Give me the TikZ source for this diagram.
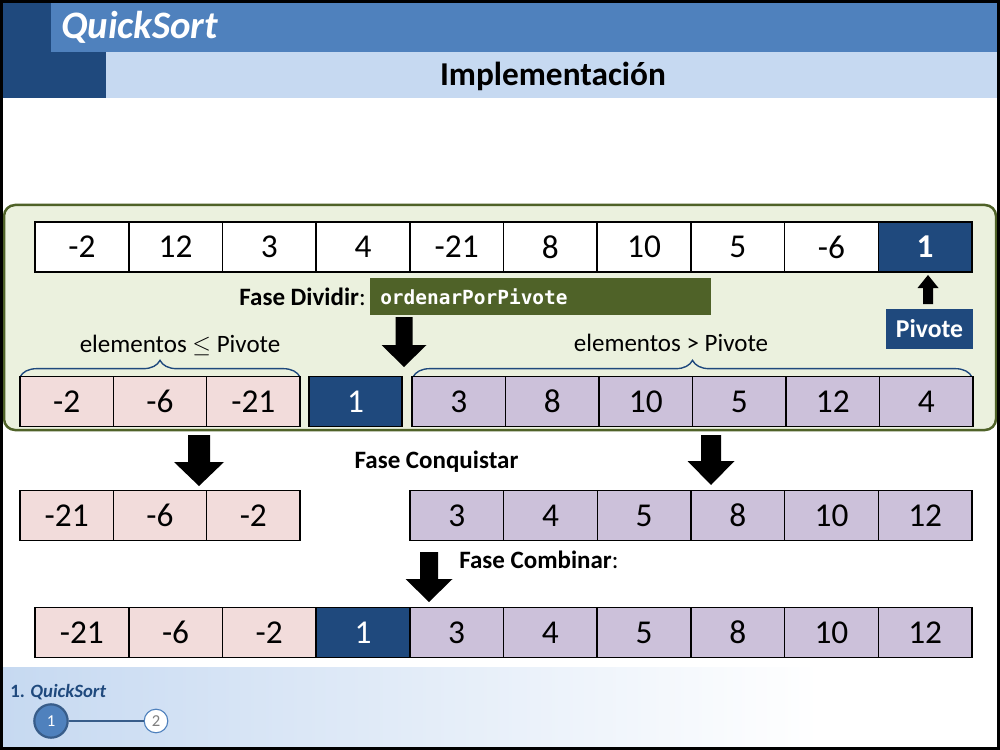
\documentclass[tikz,border=0pt]{standalone}
\usepackage{fontspec}
\setmainfont{Carlito}
\newfontfamily\codefont{DejaVu Sans Mono}
\usetikzlibrary{decorations.pathreplacing}
\definecolor{dkblue}{HTML}{1F497D}
\definecolor{mdblue}{HTML}{4F81BD}
\definecolor{ltblue}{HTML}{C6D9F1}
\definecolor{panelfill}{HTML}{EBF1DE}
\definecolor{olive}{HTML}{4F6228}
\definecolor{pinkc}{HTML}{F2DCDB}
\definecolor{purplec}{HTML}{CCC1DA}
\definecolor{ringblue}{HTML}{385D8A}
\definecolor{grayt}{HTML}{7F7F7F}
\newcommand\mkarrow[6]{\fill[black] ({#1-#4/2},#2) -- ({#1+#4/2},#2) -- ({#1+#4/2},#6) -- ({#1+#5/2},#6) -- (#1,#3) -- ({#1-#5/2},#6) -- ({#1-#4/2},#6) -- cycle;}
\begin{document}
\begin{tikzpicture}[x=0.72pt,y=-0.72pt,
  cell/.style={draw=black,line width=1.1pt,minimum width=67.4pt,minimum height=36pt,inner sep=0pt,font=\fontsize{24}{28}\selectfont},
  wcell/.style={cell,fill=white},
  pcell/.style={cell,fill=pinkc},
  vcell/.style={cell,fill=purplec},
  dcell/.style={cell,fill=dkblue,text=white},
  lbl/.style={font=\fontsize{18}{22}\selectfont,inner sep=0pt},
  blbl/.style={font=\bfseries\fontsize{18}{22}\selectfont,inner sep=0pt},
  bracestyle/.style={draw=dkblue,line width=1pt,decorate,decoration={brace,amplitude=12pt}}
]
\useasboundingbox (0,0) rectangle (1000,750);
\fill[white] (0,0) rectangle (1000,750);
% header
\fill[dkblue] (3,3) rectangle (51,52);
\fill[dkblue] (3,52) rectangle (106,98);
\fill[mdblue] (51,3) rectangle (997,52);
\fill[ltblue] (106,52) rectangle (997,98);
\node[anchor=west,text=white,font=\bfseries\itshape\fontsize{28}{32}\selectfont,inner sep=0pt] (title) at (61,27) {QuickSort};
\node[font=\bfseries\fontsize{24}{28}\selectfont,inner sep=0pt] (subtitle) at (553,76) {Implementación};
% footer
\shade[left color=ltblue,right color=white] (3,667) rectangle (820,747);
\node[anchor=west,text=dkblue,font=\bfseries\fontsize{13.5}{16}\selectfont,inner sep=0pt] (foot) at (10,692) {1. \textit{QuickSort}};
\node[circle,draw=ringblue,line width=1.6pt,fill=mdblue,minimum size=24pt,inner sep=0pt,text=white,font=\fontsize{12}{14}\selectfont] (c1) at (51,721) {1};
\node[circle,draw=mdblue,line width=0.8pt,fill=white,minimum size=17pt,inner sep=0pt,text=grayt,font=\fontsize{12}{14}\selectfont] (c2) at (156,721) {2};
\draw[ringblue,line width=0.8pt] (c1) -- (c2);
% panel
\draw[olive,fill=panelfill,line width=1.8pt,rounded corners=8pt] (4,205) rectangle (996,430);
% row 1
\foreach \v [count=\i] in {-2,12,3,4,-21,8,10,5,-6}
  \node[wcell] (a\i) at ({35+93.7*(\i-0.5)},247) {\v};
\node[dcell,font=\bfseries\fontsize{24}{28}\selectfont] (a10) at ({35+93.7*9.5},247) {1};
% dividir
\node[fill=olive,minimum width=245.5pt,minimum height=26.6pt,inner sep=0pt] (ordbox) at (540.5,296.5) {};
\node[anchor=west,text=white,font=\codefont\bfseries\fontsize{14}{16}\selectfont,inner sep=0pt] (ord) at (380,297) {ordenarPorPivote};
\node[anchor=east,font=\fontsize{18}{22}\selectfont,inner sep=0pt] (fdiv) at (366,297) {\textbf{Fase Dividir}:};
\mkarrow{404}{317}{367}{17}{45}{345}
% pivote
\node[fill=dkblue,text=white,minimum width=62.6pt,minimum height=28.8pt,inner sep=0pt,font=\bfseries\fontsize{18.5}{22}\selectfont] (piv) at (929.5,329) {Pivote};
\mkarrow{928}{304}{275}{10}{21}{288}
% braces & labels
\draw[bracestyle] (20,377) -- (300,377);
\draw[bracestyle] (413,377) -- (972,377);
\node[lbl] (le) at (180,345) {elementos $\leq$ Pivote};
\node[lbl] (gt) at (671,343) {elementos > Pivote};
% row 2
\foreach \v [count=\i] in {-2,-6,-21}
  \node[pcell,minimum width=67.2pt] (b\i) at ({20+93.33*(\i-0.5)},401.5) {\v};
\node[dcell,minimum width=67pt] (bp) at (355.5,401.5) {1};
\foreach \v [count=\i] in {3,8,10,5,12,4}
  \node[vcell,minimum width=67.3pt] (d\i) at ({412+93.5*(\i-0.5)},401.5) {\v};
% conquistar
\mkarrow{199}{435}{486}{22}{50}{462}
\mkarrow{711}{435}{485}{20}{47}{461}
\node[blbl] (fcon) at (436.5,462) {Fase Conquistar};
% row 3
\foreach \v [count=\i] in {-21,-6,-2}
  \node[pcell,minimum width=67.2pt] (e\i) at ({20+93.33*(\i-0.5)},515.5) {\v};
\foreach \v [count=\i] in {3,4,5,8,10,12}
  \node[vcell,minimum width=67.4pt] (f\i) at ({410+93.67*(\i-0.5)},515.5) {\v};
% combinar
\mkarrow{429}{552}{602}{18}{47}{579}
\node[anchor=west,font=\fontsize{18}{22}\selectfont,inner sep=0pt] (fcom) at (459,560) {\textbf{Fase Combinar}:};
% row 4
\foreach \v [count=\i] in {-21,-6,-2}
  \node[pcell] (g\i) at ({35+93.7*(\i-0.5)},632.5) {\v};
\node[dcell] (gp) at ({35+93.7*3.5},632.5) {1};
\foreach \v [count=\i] in {3,4,5,8,10,12}
  \node[vcell] (h\i) at ({35+93.7*(\i+3.5)},632.5) {\v};
% frame
\draw[black,line width=2.2pt] (1.5,1.5) rectangle (998.5,748.5);
\end{tikzpicture}
\end{document}
